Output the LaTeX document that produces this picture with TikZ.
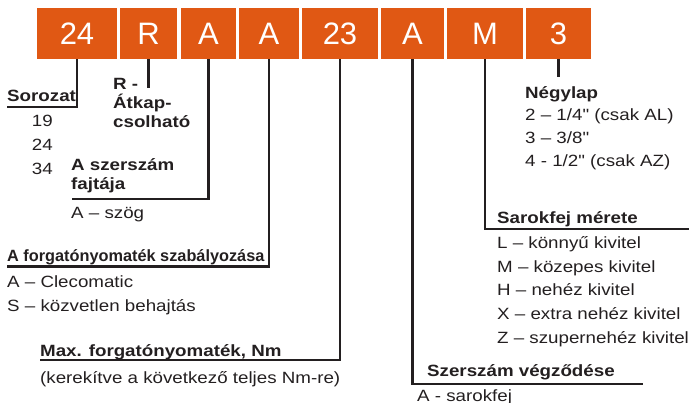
\documentclass[tikz,border=0pt]{standalone}
\usepackage{fontspec}
\setmainfont{Liberation Sans}
\newfontfamily\labelfont{Liberation Sans}[FakeStretch=1.15]
\newfontfamily\narrowfont{Liberation Sans}
\definecolor{clorange}{RGB}{224,88,20}
\definecolor{ink}{RGB}{35,31,32}
\tikzset{
  codebox/.style={fill=clorange,text=white,minimum height=51pt,inner sep=0pt,
    font=\fontsize{31}{31}\selectfont},
  head/.style={anchor=base west,inner sep=0pt,text=ink,
    font=\labelfont\fontsize{16.3}{19.3}\selectfont\bfseries},
  headblock/.style={anchor=north west,inner sep=0pt,text=ink,align=left,
    font=\labelfont\fontsize{16.3}{19.3}\selectfont\bfseries},
  item/.style={anchor=base west,inner sep=0pt,text=ink,
    font=\labelfont\fontsize{16.3}{19.3}\selectfont},
  lead/.style={draw=ink,line width=2.4pt}
}
\begin{document}
\begin{tikzpicture}[x=1pt,y=-1pt]
\useasboundingbox (0,0) rectangle (689,403);

  % the code boxes
  \node[codebox,minimum width=80pt] (b1) at (77,33.5) {24};
  \node[codebox,minimum width=57pt] (b2) at (148.5,33.5) {R};
  \node[codebox,minimum width=55pt] (b3) at (208.5,33.5) {A};
  \node[codebox,minimum width=60pt] (b4) at (269,33.5) {A};
  \node[codebox,minimum width=76pt] (b5) at (340,33.5) {23};
  \node[codebox,minimum width=63pt] (b6) at (412.5,33.5) {A};
  \node[codebox,minimum width=76pt] (b7) at (485,33.5) {M};
  \node[codebox,minimum width=65pt] (b8) at (558.5,33.5) {3};

  % series
  \draw (7,101.7) node[head] (sor) {Sorozat};
  \draw (31.7,127) node[item] (s19) {19}
  ++(0,24) node[item] (s24) {24}
  ++(0,24) node[item] (s34) {34};
  \coordinate (sorend) at (7,107);
  \draw[lead] (b1.south) |- (sorend);

  % reversible
  \draw (113,77.8) node[headblock] (rev) {R -\\Átkap-\\csolható};
  \coordinate (revend) at (148.5,88);
  \draw[lead] (b2.south) -- (revend);

  % tool type
  \draw (71,158.3) node[headblock] (typ) {A szerszám\\fajtája};
  \draw (71,218.3) node[item] (typa) {A – szög};
  \coordinate (typend) at (72,199.3);
  \draw[lead] (b3.south) |- (typend);

  % torque control
  \draw (7,261.7) node[head,font=\narrowfont\fontsize{16.3}{19.3}\selectfont\bfseries] (ctl) {A forgatónyomaték szabályozása};
  \draw (7,287.8) node[item] (ctla) {A – Clecomatic}
  ++(0,24.2) node[item] (ctls) {S – közvetlen behajtás};
  \coordinate (ctlend) at (7,266.7);
  \draw[lead] (b4.south) |- (ctlend);

  % max torque
  \draw (40,356.7) node[head] (nm) {Max. forgatónyomaték, Nm};
  \draw (40,383.3) node[item] (nmr) {(kerekítve a következő teljes Nm-re)};
  \coordinate (nmend) at (40,360);
  \draw[lead] (b5.south) |- (nmend);

  % tool end
  \draw (427,376.7) node[head] (end) {Szerszám végződése};
  \draw (417,401.5) node[item] (enda) {A - sarokfej};
  \coordinate (endend) at (643,384);
  \draw[lead] (b6.south) |- (endend);

  % angle head size
  \draw (497,223.3) node[head] (siz) {Sarokfej mérete};
  \draw (497,248.3) node[item] (sizl) {L – könnyű kivitel}
  ++(0,23.75) node[item] (sizm) {M – közepes kivitel}
  ++(0,23.75) node[item] (sizh) {H – nehéz kivitel}
  ++(0,23.75) node[item] (sizx) {X – extra nehéz kivitel}
  ++(0,23.75) node[item] (sizz) {Z – szupernehéz kivitel};
  \coordinate (sizend) at (689,229.3);
  \draw[lead] (b7.south) |- (sizend);

  % square drive
  \draw (525,98.3) node[head] (sq) {Négylap};
  \draw (525,120.7) node[item] (sq2) {2 – 1/4" (csak AL)}
  ++(0,23) node[item] (sq3) {3 – 3/8"}
  ++(0,23) node[item] (sq4) {4 - 1/2" (csak AZ)};
  \coordinate (sqend) at (558.5,77);
  \draw[lead] (b8.south) -- (sqend);

\end{tikzpicture}
\end{document}
